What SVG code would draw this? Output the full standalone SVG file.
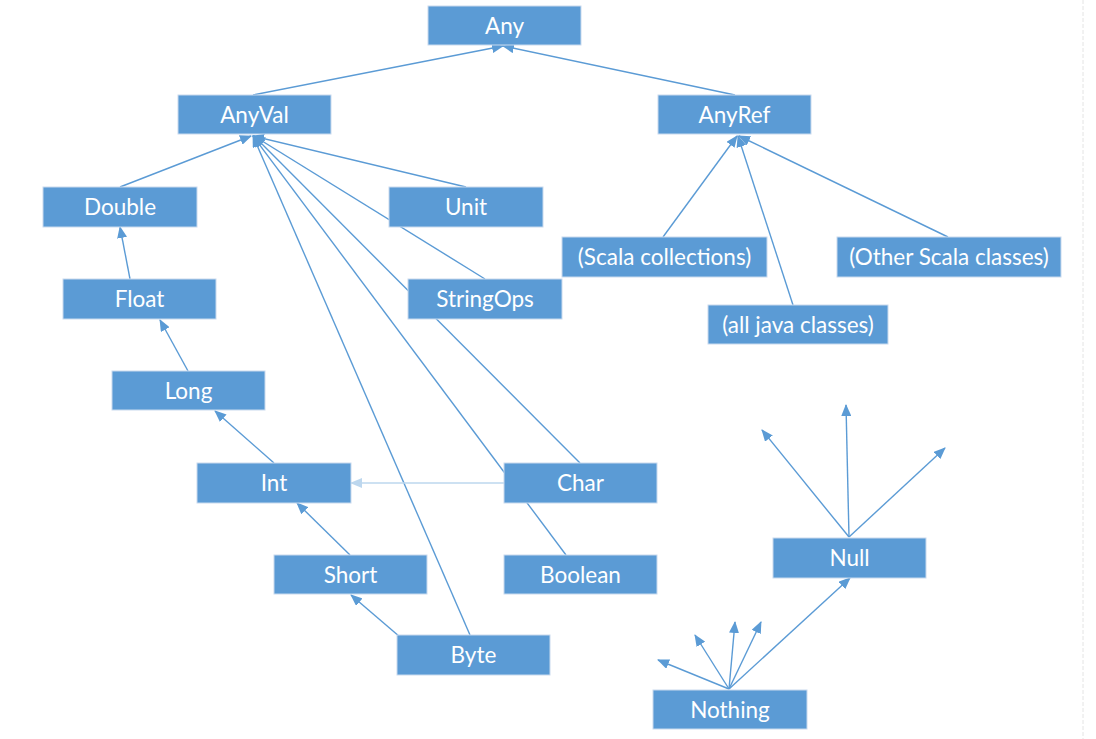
<svg xmlns="http://www.w3.org/2000/svg" width="1096" height="739" viewBox="0 0 1096 739">
<style>
.box{fill:#5B9BD5;stroke:#C9DAEE;stroke-width:1}
.lbl{font-family:"Lato","Liberation Sans",sans-serif;font-size:22.5px;fill:#FFFFFF;text-anchor:middle}
.c{stroke:#5B9BD5;stroke-width:1.4;fill:none}
.ca{stroke:#5B9BD5;stroke-width:1.4;fill:none;marker-end:url(#ah)}
.cl{stroke:#BDD7EE;stroke-width:1.4;fill:none;marker-end:url(#ahl)}
</style>
<defs>
<marker id="ah" markerUnits="userSpaceOnUse" markerWidth="12" markerHeight="10" refX="11" refY="5" orient="auto">
<path d="M0,0 L12,5 L0,10 Z" fill="#5B9BD5"/>
</marker>
<marker id="ahl" markerUnits="userSpaceOnUse" markerWidth="12" markerHeight="10" refX="11" refY="5" orient="auto">
<path d="M0,0 L12,5 L0,10 Z" fill="#BDD7EE"/>
</marker>
</defs>
<rect width="1096" height="739" fill="#FFFFFF"/>
<line x1="1083" y1="0" x2="1083" y2="739" stroke="#E4E4E4" stroke-width="1" stroke-dasharray="4,2"/>
<g id="connectors">
<line class="ca" x1="253" y1="95" x2="503" y2="46"/>
<line class="ca" x1="735" y1="95" x2="503" y2="46"/>
<line class="ca" x1="120" y1="187" x2="251" y2="136"/>
<line class="ca" x1="466" y1="187" x2="253" y2="136"/>
<line class="ca" x1="485" y1="279" x2="254" y2="136"/>
<line class="ca" x1="580" y1="463" x2="254" y2="136"/>
<line class="ca" x1="566" y1="555" x2="253" y2="136"/>
<line class="ca" x1="470" y1="635" x2="253" y2="136"/>
<line class="ca" x1="400" y1="637" x2="351" y2="595"/>
<line class="ca" x1="350" y1="555" x2="297" y2="503"/>
<line class="ca" x1="274" y1="463" x2="215" y2="411"/>
<line class="ca" x1="188" y1="371" x2="160" y2="320"/>
<line class="ca" x1="130" y1="279" x2="120" y2="227"/>
<line class="cl" x1="504" y1="483" x2="351" y2="483"/>
<line class="ca" x1="663" y1="237" x2="737" y2="136"/>
<line class="ca" x1="793" y1="305" x2="738" y2="136"/>
<line class="ca" x1="948" y1="237" x2="739" y2="136"/>
<line class="ca" x1="849" y1="537" x2="762" y2="430"/>
<line class="ca" x1="849" y1="537" x2="846" y2="405"/>
<line class="ca" x1="849" y1="537" x2="945" y2="448"/>
<line class="ca" x1="729" y1="689" x2="658" y2="660"/>
<line class="ca" x1="729" y1="689" x2="695" y2="635"/>
<line class="ca" x1="729" y1="689" x2="735" y2="622"/>
<line class="ca" x1="729" y1="689" x2="761" y2="622"/>
<line class="ca" x1="729" y1="689" x2="850" y2="578"/>
</g>
<g id="n-any"><rect class="box" x="428" y="6" width="153" height="39"/><text class="lbl" x="504.5" y="33.5">Any</text></g>
<g id="n-anyval"><rect class="box" x="178" y="95" width="153" height="39"/><text class="lbl" x="254.5" y="122.5">AnyVal</text></g>
<g id="n-anyref"><rect class="box" x="658" y="95" width="153" height="39"/><text class="lbl" x="734.5" y="122.5">AnyRef</text></g>
<g id="n-double"><rect class="box" x="43" y="187" width="154" height="40"/><text class="lbl" x="120" y="215">Double</text></g>
<g id="n-unit"><rect class="box" x="389" y="187" width="154" height="40"/><text class="lbl" x="466" y="215">Unit</text></g>
<g id="n-stringops"><rect class="box" x="408" y="279" width="154" height="40"/><text class="lbl" x="485" y="307">StringOps</text></g>
<g id="n-scalacoll"><rect class="box" x="562" y="237" width="205" height="40"/><text class="lbl" x="664.5" y="265">(Scala collections)</text></g>
<g id="n-otherscala"><rect class="box" x="837" y="237" width="224" height="40"/><text class="lbl" x="949" y="265">(Other Scala classes)</text></g>
<g id="n-java"><rect class="box" x="708" y="305" width="180" height="39"/><text class="lbl" x="798" y="332.5">(all java classes)</text></g>
<g id="n-float"><rect class="box" x="63" y="279" width="153" height="40"/><text class="lbl" x="139.5" y="307">Float</text></g>
<g id="n-long"><rect class="box" x="112" y="371" width="153" height="39"/><text class="lbl" x="188.5" y="398.5">Long</text></g>
<g id="n-int"><rect class="box" x="197" y="463" width="154" height="40"/><text class="lbl" x="274" y="491">Int</text></g>
<g id="n-char"><rect class="box" x="504" y="463" width="153" height="40"/><text class="lbl" x="580.5" y="491">Char</text></g>
<g id="n-boolean"><rect class="box" x="504" y="555" width="153" height="39"/><text class="lbl" x="580.5" y="582.5">Boolean</text></g>
<g id="n-short"><rect class="box" x="274" y="555" width="153" height="39"/><text class="lbl" x="350.5" y="582.5">Short</text></g>
<g id="n-byte"><rect class="box" x="397" y="635" width="153" height="40"/><text class="lbl" x="473.5" y="663">Byte</text></g>
<g id="n-null"><rect class="box" x="773" y="538" width="153" height="40"/><text class="lbl" x="849.5" y="566">Null</text></g>
<g id="n-nothing"><rect class="box" x="653" y="690" width="154" height="39"/><text class="lbl" x="730" y="717.5">Nothing</text></g>
</svg>
